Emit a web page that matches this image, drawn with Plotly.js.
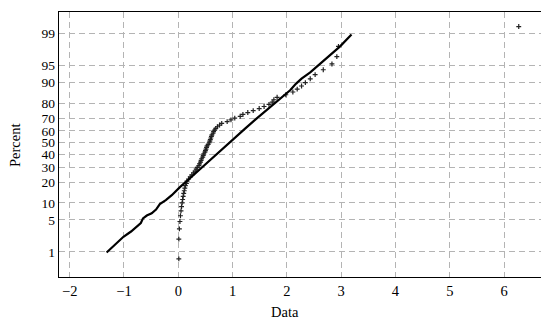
<!DOCTYPE html>
<html>
<head>
<meta charset="utf-8">
<script src="https://cdn.plot.ly/plotly-3.0.1.min.js"></script>
<style>html,body{margin:0;padding:0;background:#fff;}#chart{width:541px;height:322px;}</style>
</head>
<body>
<div id="chart"></div>
<script>
// Sorted sample values (Data)
const sampleData = [0.01, 0.01, 0.02, 0.03, 0.04, 0.05, 0.06, 0.07, 0.08, 0.09,
  0.10, 0.11, 0.12, 0.13, 0.15, 0.16, 0.19, 0.22, 0.25, 0.28,
  0.31, 0.33, 0.35, 0.38, 0.39, 0.41, 0.42, 0.43, 0.45, 0.46,
  0.47, 0.49, 0.50, 0.51, 0.52, 0.53, 0.55, 0.57, 0.58, 0.59,
  0.60, 0.61, 0.62, 0.64, 0.65, 0.67, 0.69, 0.72, 0.76, 0.80,
  0.90, 0.97, 1.04, 1.14, 1.19, 1.28, 1.38, 1.49, 1.58, 1.67,
  1.73, 1.76, 1.82, 1.98, 2.11, 2.19, 2.27, 2.34, 2.43, 2.52,
  2.67, 2.83, 2.92, 2.95, 6.27];

// Reference line (x value, percent)
const lineX = [-1.32, -1.17, -1.01, -0.87, -0.77, -0.69, -0.65, -0.58, -0.49, -0.41,
  -0.34, -0.23, -0.12, 0.03, 0.22, 0.40, 0.71, 0.95, 1.23, 1.44,
  1.69, 1.87, 2.06, 2.17, 2.27, 2.43, 2.61, 2.79, 2.98, 3.19];
const linePct = [0.97, 1.47, 2.26, 2.93, 3.68, 4.35, 5.36, 6.04, 6.63, 7.73,
  9.58, 11.1, 13.2, 17.2, 22.6, 28.7, 40.8, 50.9, 61.8, 69.6,
  77.5, 82.3, 86.8, 89.6, 91.4, 93.3, 95.3, 96.8, 98.0, 98.95];

const yTickPct = [1, 5, 10, 20, 30, 40, 50, 60, 70, 80, 90, 95, 99];
const yTickText = ['1', '5', '10', '20', '30', '40', '50', '60', '70', '80', '90', '95', '99'];
const xTickVals = [-2, -1, 0, 1, 2, 3, 4, 5, 6];
const xTitle = 'Data';
const yTitle = 'Percent';

// Inverse standard normal CDF (Acklam)
function norminv(p) {
  const a = [-3.969683028665376e+01, 2.209460984245205e+02, -2.759285104469687e+02, 1.383577518672690e+02, -3.066479806614716e+01, 2.506628277459239e+00];
  const b = [-5.447609879822406e+01, 1.615858368580409e+02, -1.556989798598866e+02, 6.680131188771972e+01, -1.328068155288572e+01];
  const c = [-7.784894002430293e-03, -3.223964580411365e-01, -2.400758277161838e+00, -2.549732539343734e+00, 4.374664141464968e+00, 2.938163982698783e+00];
  const d = [7.784695709041462e-03, 3.224671290700398e-01, 2.445134137142996e+00, 3.754408661907416e+00];
  const pl = 0.02425, ph = 1 - pl;
  let q, r;
  if (p < pl) {
    q = Math.sqrt(-2 * Math.log(p));
    return (((((c[0]*q+c[1])*q+c[2])*q+c[3])*q+c[4])*q+c[5]) / ((((d[0]*q+d[1])*q+d[2])*q+d[3])*q+1);
  } else if (p <= ph) {
    q = p - 0.5; r = q*q;
    return (((((a[0]*r+a[1])*r+a[2])*r+a[3])*r+a[4])*r+a[5])*q / (((((b[0]*r+b[1])*r+b[2])*r+b[3])*r+b[4])*r+1);
  } else {
    q = Math.sqrt(-2 * Math.log(1 - p));
    return -(((((c[0]*q+c[1])*q+c[2])*q+c[3])*q+c[4])*q+c[5]) / ((((d[0]*q+d[1])*q+d[2])*q+d[3])*q+1);
  }
}

// Probability-plot positions from rank: (i - 0.5) / n
const n = sampleData.length;
const sampleZ = sampleData.map((v, i) => norminv((i + 0.5) / n));
const lineZ = linePct.map(p => norminv(p / 100));

const FAM = 'Liberation Serif, Times New Roman, serif';
const font = {family: FAM, size: 14.5, color: '#000'};
const yTickFont = {family: FAM, size: 13.5, color: '#000'};

const traces = [
  {
    x: sampleData, y: sampleZ, type: 'scatter', mode: 'markers',
    marker: {symbol: 'cross-thin', size: 3.5, color: '#222', line: {width: 1.2, color: '#222'}},
    hoverinfo: 'skip', showlegend: false
  },
  {
    x: lineX, y: lineZ, type: 'scatter', mode: 'lines',
    line: {color: '#000', width: 2.2},
    hoverinfo: 'skip', showlegend: false
  }
];

const layout = {
  width: 541, height: 322,
  margin: {l: 59, r: 0, t: 12, b: 45},
  paper_bgcolor: '#fff', plot_bgcolor: '#fff',
  font: font,
  showlegend: false,
  xaxis: {
    range: [-2.197, 6.68],
    tickvals: xTickVals,
    showgrid: true, gridcolor: '#b4b4b4', gridwidth: 1, griddash: '6px,4px',
    zeroline: false,
    showline: true, linecolor: '#000', linewidth: 1.2, mirror: true,
    ticks: '', ticklen: 0,
    tickfont: font
  },
  yaxis: {
    range: [-2.86, 2.785],
    tickvals: yTickPct.map(p => norminv(p / 100)),
    ticktext: yTickText,
    showgrid: true, gridcolor: '#b4b4b4', gridwidth: 1, griddash: '6px,4px',
    zeroline: false,
    showline: true, linecolor: '#000', linewidth: 1.2, mirror: false,
    ticks: '', ticklen: 0,
    tickfont: yTickFont
  },
  annotations: [
    {text: xTitle, xref: 'paper', yref: 'paper', x: 0.469, y: 0, yshift: -35,
     xanchor: 'center', yanchor: 'middle', showarrow: false, font: font, borderpad: 0},
    {text: yTitle, xref: 'paper', yref: 'paper', x: -0.0913, y: 0.498, textangle: -90,
     xanchor: 'center', yanchor: 'middle', showarrow: false, font: font}
  ]
};

Plotly.newPlot('chart', traces, layout, {staticPlot: true, displayModeBar: false});
</script>
</body>
</html>
